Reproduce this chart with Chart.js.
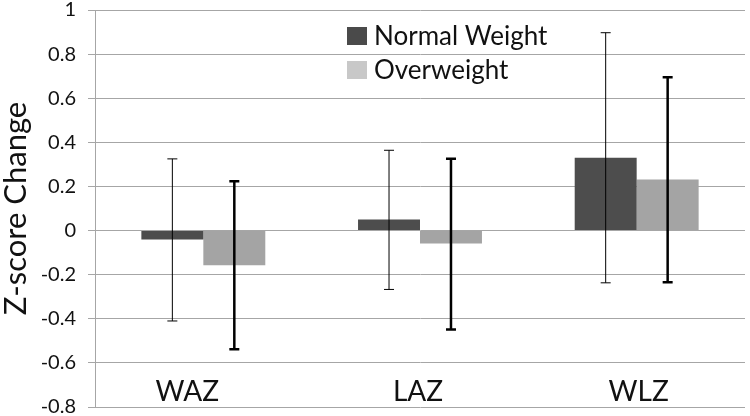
<!DOCTYPE html>
<html><head><meta charset="utf-8">
<script src="https://cdn.jsdelivr.net/npm/chart.js@4.4.0/dist/chart.umd.min.js"></script>
<style>html,body{margin:0;padding:0;background:#fff}</style>
</head><body>
<canvas id="c" width="750" height="416" style="width:750px;height:416px;display:block"></canvas>
<script>
const categories = ['WAZ', 'LAZ', 'WLZ'];
const seriesNames = ['Normal Weight', 'Overweight'];
const normalValues = [-0.04, 0.05, 0.33];
const overweightValues = [-0.157, -0.059, 0.231];
const normalErrHigh = [0.325, 0.364, 0.897];
const normalErrLow = [-0.41, -0.267, -0.237];
const overweightErrHigh = [0.224, 0.326, 0.695];
const overweightErrLow = [-0.538, -0.449, -0.234];
const yMin = -0.8, yMax = 1, yStep = 0.2;
const yTitle = 'Z-score Change';

const FONT = 'Lato, "Open Sans", sans-serif';

const errorBarPlugin = {
  id: 'errorBars',
  afterDatasetsDraw(chart) {
    const ctx = chart.ctx, ys = chart.scales.y;
    chart.data.datasets.forEach((ds, i) => {
      const meta = chart.getDatasetMeta(i);
      ctx.save();
      ctx.strokeStyle = '#000';
      ctx.lineWidth = ds.errLineWidth;
      meta.data.forEach((bar, j) => {
        const x = bar.x;
        const yh = ys.getPixelForValue(ds.errHigh[j]);
        const yl = ys.getPixelForValue(ds.errLow[j]);
        const cw = 5;
        ctx.beginPath();
        ctx.moveTo(x, yh); ctx.lineTo(x, yl);
        ctx.moveTo(x - cw, yh); ctx.lineTo(x + cw, yh);
        ctx.moveTo(x - cw, yl); ctx.lineTo(x + cw, yl);
        ctx.stroke();
      });
      ctx.restore();
    });
  }
};

const categoryLabelPlugin = {
  id: 'catLabels',
  afterDatasetsDraw(chart) {
    const ctx = chart.ctx, xs = chart.scales.x, area = chart.chartArea;
    const nudge = [-16, -2, 2];
    ctx.save();
    ctx.fillStyle = '#111';
    ctx.font = '28px ' + FONT;
    ctx.textAlign = 'center';
    ctx.textBaseline = 'alphabetic';
    chart.data.labels.forEach((lab, j) => {
      ctx.fillText(lab, xs.getPixelForValue(j) + nudge[j], area.bottom - 6);
    });
    ctx.restore();
  }
};

const legendPlugin = {
  id: 'floatLegend',
  afterDatasetsDraw(chart) {
    const ctx = chart.ctx, area = chart.chartArea;
    ctx.save();
    ctx.font = '26px ' + FONT;
    ctx.textBaseline = 'middle';
    chart.data.datasets.forEach((ds, i) => {
      const x = area.left + 252, y = area.top + 26 + i * 34;
      ctx.fillStyle = ds.legendColor;
      ctx.fillRect(x, y - 9, 20, 18);
      ctx.fillStyle = '#111';
      ctx.fillText(ds.label, x + 27, y + 1);
    });
    ctx.restore();
  }
};

new Chart(document.getElementById('c'), {
  type: 'bar',
  data: {
    labels: categories,
    datasets: [
      { label: seriesNames[0], data: normalValues, backgroundColor: '#4d4d4d', legendColor: '#4a4a4a',
        errHigh: normalErrHigh, errLow: normalErrLow, errLineWidth: 1,
        categoryPercentage: 0.572, barPercentage: 1 },
      { label: seriesNames[1], data: overweightValues, backgroundColor: '#a4a4a4', legendColor: '#c8c8c8',
        errHigh: overweightErrHigh, errLow: overweightErrLow, errLineWidth: 2.5,
        categoryPercentage: 0.572, barPercentage: 1 }
    ]
  },
  options: {
    responsive: false,
    animation: false,
    layout: { padding: { top: 0, right: 5, bottom: 0, left: 0 } },
    plugins: { legend: { display: false }, tooltip: { enabled: false } },
    scales: {
      x: { display: false },
      y: {
        min: yMin, max: yMax,
        afterFit(scale) { scale.width = 95; scale.paddingTop = 10; scale.paddingBottom = 9; },
        ticks: {
          stepSize: yStep, padding: 12, color: '#111',
          font: { family: FONT, size: 20, lineHeight: 1 },
          callback: v => String(Math.round(v * 10) / 10)
        },
        grid: { color: '#a6a6a6', lineWidth: 1, drawTicks: true, tickLength: 7 },
        border: { display: true, color: '#a6a6a6' },
        title: { display: true, text: yTitle, color: '#111', font: { family: FONT, size: 31, lineHeight: 1 }, padding: { top: 0.5, bottom: 0 } }
      }
    }
  },
  plugins: [errorBarPlugin, categoryLabelPlugin, legendPlugin]
});
</script>
</body></html>
